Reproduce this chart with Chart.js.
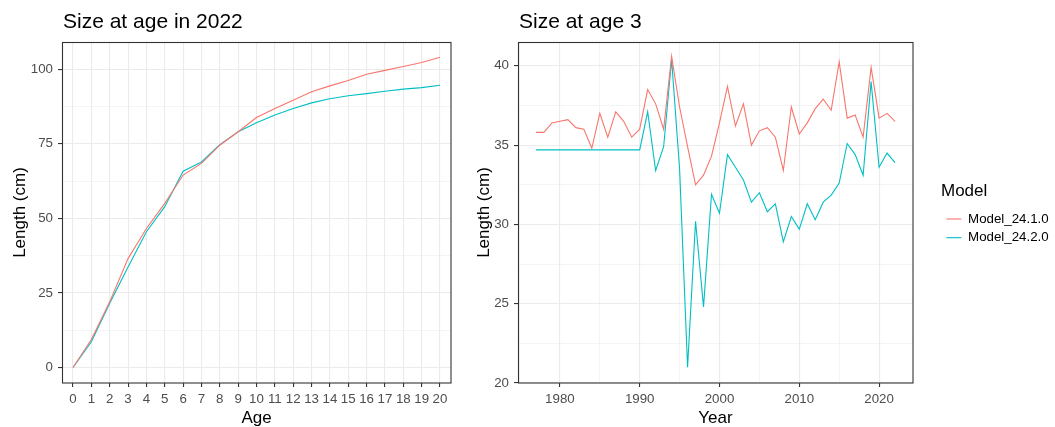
<!DOCTYPE html>
<html><head><meta charset="utf-8">
<script src="https://cdn.jsdelivr.net/npm/chart.js@4.4.1/dist/chart.umd.min.js"></script>
<style>
html,body{margin:0;padding:0;background:#fff;}
body{width:1055px;height:427px;position:relative;overflow:hidden;}
#wrapL{position:absolute;left:0;top:0;width:470px;height:427px;}
#wrapR{position:absolute;left:460px;top:0;width:595px;height:427px;}
</style></head><body>
<div id="wrapL"><canvas id="cL"></canvas></div>
<div id="wrapR"><canvas id="cR"></canvas></div>
<script>
// ---- data ----
const seriesNames = ['Model_24.1.0', 'Model_24.2.0'];
const ages = [0,1,2,3,4,5,6,7,8,9,10,11,12,13,14,15,16,17,18,19,20];
const lenAtAge241 = [0,9.4,22,36.5,46.6,55,64.5,68.4,74.5,79,83.8,86.8,89.6,92.4,94.4,96.2,98.3,99.6,100.9,102.2,104.0];
const lenAtAge242 = [0,8.6,21.5,33.7,45.5,53.9,65.8,68.9,74.7,79,82,84.6,86.8,88.7,90.1,91.1,91.8,92.6,93.3,93.8,94.6];
const years = [1977,1978,1979,1980,1981,1982,1983,1984,1985,1986,1987,1988,1989,1990,1991,1992,1993,1994,1995,1996,1997,1998,1999,2000,2001,2002,2003,2004,2005,2006,2007,2008,2009,2010,2011,2012,2013,2014,2015,2016,2017,2018,2019,2020,2021,2022];
const age3Len241 = [35.8,35.8,36.4,36.5,36.6,36.1,36.0,34.8,37.0,35.5,37.1,36.5,35.5,36.0,38.5,37.6,36.0,40.6,37.4,34.9,32.5,33.1,34.3,36.4,38.7,36.2,37.6,35.0,35.9,36.1,35.5,33.4,37.4,35.7,36.4,37.3,37.9,37.2,40.25,36.7,36.9,35.5,39.9,36.7,37.0,36.5];
const age3Len242 = [34.7,34.7,34.7,34.7,34.7,34.7,34.7,34.7,34.7,34.7,34.7,34.7,34.7,34.7,37.1,33.4,34.9,40.4,33.5,21.0,30.2,24.8,31.9,30.7,34.4,33.6,32.8,31.4,32.0,30.8,31.3,28.9,30.5,29.7,31.3,30.3,31.4,31.85,32.6,35.1,34.4,33.1,39.0,33.6,34.5,33.9];
const ageTicks = ages;
const lenTicksL = [0,25,50,75,100];
const lenMinorL = [12.5,37.5,62.5,87.5];
const yearTicks = [1980,1990,2000,2010,2020];
const yearMinor = [1975,1985,1995,2005,2015];
const lenTicksR = [20,25,30,35,40];
const lenMinorR = [22.5,27.5,32.5,37.5];
const titleL = 'Size at age in 2022';
const titleR = 'Size at age 3';
const xTitleL = 'Age';
const xTitleR = 'Year';
const yTitle = 'Length (cm)';
const legendTitle = 'Model';

const colors = ['#F8766D', '#00BFC4'];
const FONT = "'Liberation Sans', Arial, sans-serif";
Chart.defaults.font.family = FONT;
Chart.defaults.devicePixelRatio = 1;

function makeAxis(o) {
  return {
    type: 'linear', min: o.min, max: o.max, position: o.position,
    afterBuildTicks(scale) {
      const all = o.majors.map(v => ({value: v, minor: false}))
        .concat(o.minors.map(v => ({value: v, minor: true})));
      all.sort((a, b) => a.value - b.value);
      scale.ticks = all;
    },
    afterFit(scale) {
      if (o.width !== undefined) scale.width = o.width;
      if (o.height !== undefined) scale.height = o.height;
    },
    ticks: {
      autoSkip: false, maxRotation: 0, minRotation: 0,
      padding: o.tickPad, color: '#4D4D4D', font: {size: 13.3, family: FONT},
      callback: (v, i, ticks) => (ticks[i] && ticks[i].minor) ? '' : String(v)
    },
    grid: {
      color: '#EBEBEB',
      lineWidth: c => (c.tick && c.tick.minor) ? 0.55 : 1.1,
      drawTicks: true, tickLength: 4, tickWidth: 1.1,
      tickColor: c => (c.tick && c.tick.minor) ? 'rgba(0,0,0,0)' : '#333333'
    },
    border: {display: false},
    title: {display: true, text: o.title, color: '#000', font: {size: 17, family: FONT, lineHeight: 1},
      padding: o.titlePad}
  };
}

function framePlugin(title) {
  return {
    id: 'frame',
    afterDraw(chart) {
      const a = chart.chartArea, ctx = chart.ctx;
      ctx.save();
      ctx.strokeStyle = '#333333'; ctx.lineWidth = 1.1;
      ctx.strokeRect(a.left + 0.5, a.top + 0.5, a.right - a.left - 0.5, a.bottom - a.top - 0.5);
      ctx.fillStyle = '#000'; ctx.font = '21px ' + FONT; ctx.textBaseline = 'alphabetic'; ctx.textAlign = 'left';
      ctx.fillText(title, a.left + 1, 28);
      ctx.restore();
    }
  };
}

function ds(xs, ys, k) {
  return {
    label: seriesNames[k],
    data: xs.map((x, i) => ({x: x, y: ys[i]})),
    borderColor: colors[k], backgroundColor: colors[k],
    borderWidth: 1.1, pointRadius: 0, tension: 0, fill: false
  };
}

new Chart(document.getElementById('cL'), {
  type: 'line',
  data: {datasets: [ds(ages, lenAtAge241, 0), ds(ages, lenAtAge242, 1)]},
  options: {
    responsive: true, maintainAspectRatio: false, animation: false,
    layout: {padding: {top: 42, left: 0, right: 19, bottom: 0}},
    plugins: {legend: {display: false}, tooltip: {enabled: false}},
    scales: {
      x: makeAxis({min: -0.6, max: 20.6, position: 'bottom', majors: ageTicks, minors: [], height: 44, tickPad: 4,
        title: xTitleL, titlePad: {top: 0, bottom: 0.5}}),
      y: makeAxis({min: -5.2, max: 109.1, position: 'left', majors: lenTicksL, minors: lenMinorL, width: 62, tickPad: 5,
        title: yTitle, titlePad: {top: 11.5, bottom: 0}})
    }
  },
  plugins: [framePlugin(titleL)]
});

const legendShift = {
  id: 'legendShift',
  afterLayout(chart) {
    const lg = chart.legend;
    if (!lg) return;
    lg.left = 481;
    lg.right = 595;
    lg.width = lg.right - lg.left;
    lg.top -= 21;
    lg.bottom -= 21;
  }
};

new Chart(document.getElementById('cR'), {
  type: 'line',
  data: {datasets: [ds(years, age3Len241, 0), ds(years, age3Len242, 1)]},
  options: {
    responsive: true, maintainAspectRatio: false, animation: false,
    layout: {padding: {top: 42, left: 0, right: 42, bottom: 0}},
    plugins: {
      tooltip: {enabled: false},
      legend: {
        display: true, position: 'right', align: 'center', maxWidth: 100,
        labels: {usePointStyle: true, pointStyle: 'line', pointStyleWidth: 15, color: '#000',
          font: {size: 13.3, family: FONT}, padding: 5.4},
        title: {display: true, text: legendTitle, position: 'start', color: '#000',
          font: {size: 17, family: FONT, lineHeight: 1.2}, padding: {top: 5.25, bottom: 4.05}}
      }
    },
    scales: {
      x: makeAxis({min: 1974.75, max: 2024.25, position: 'bottom', majors: yearTicks, minors: yearMinor, height: 44, tickPad: 4,
        title: xTitleR, titlePad: {top: 0, bottom: 0.5}}),
      y: makeAxis({min: 20.0, max: 41.5, position: 'left', majors: lenTicksR, minors: lenMinorR, width: 58, tickPad: 5,
        title: yTitle, titlePad: {top: 15.5, bottom: 0}})
    }
  },
  plugins: [framePlugin(titleR), legendShift]
});
</script>
</body></html>
